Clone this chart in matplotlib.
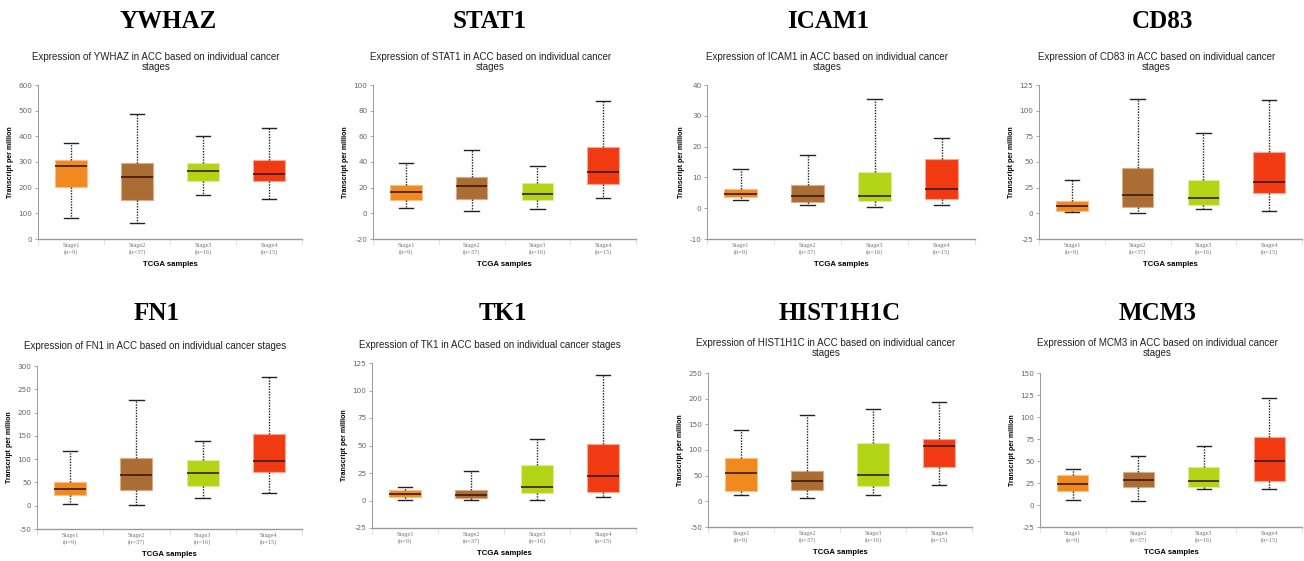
import matplotlib
matplotlib.use('Agg')
import matplotlib.pyplot as plt
import numpy as np

plt.rcParams['axes.unicode_minus'] = False

# stage categories
stages = ['Stage1\n(n=9)', 'Stage2\n(n=37)', 'Stage3\n(n=16)', 'Stage4\n(n=15)']
colors = ['#f08a1e', '#ac6d35', '#b2d414', '#f23a12']
edges = ['#f7c08a', '#d9ad8a', '#dcec98', '#f8a890']

# [whislo, q1, median, q3, whishi] per stage
YWHAZ = [[83, 201, 284, 308, 375], [64, 152, 243, 295, 486],
         [171, 226, 264, 297, 403], [155, 226, 255, 306, 434]]
STAT1 = [[4, 10, 16.4, 22, 39.3], [2, 11.5, 21.4, 28, 49],
         [3, 10, 15, 24, 37], [11.7, 23, 32, 52, 87.5]]
ICAM1 = [[2.7, 3.7, 4.6, 6.2, 12.8], [1.1, 2.1, 3.9, 7.4, 17.4],
         [0.3, 2.4, 3.9, 11.8, 35.4], [1.1, 2.9, 6.1, 16, 22.7]]
CD83 = [[1.4, 2.7, 7.3, 11.8, 32], [0.8, 6.3, 18, 43.8, 111.6],
        [4.7, 7.9, 15.1, 32.7, 78.3], [2.7, 19.7, 30.8, 59.8, 110.7]]
FN1 = [[4.3, 23, 36, 50.6, 117], [1.4, 33, 65, 103, 226],
       [16.4, 43, 71, 98, 139], [27, 73, 96, 155, 277]]
TK1 = [[0.5, 3.2, 6.2, 9.8, 12], [0.5, 2.6, 5.3, 9.8, 26.5],
       [0.8, 6.8, 12.3, 32, 55.6], [2.9, 8, 22.6, 51, 113.8]]
HIST1H1C = [[11.7, 20, 54.5, 85, 138], [7, 23, 39.6, 58.4, 169],
            [11.7, 30, 52, 113.6, 180.5], [31, 66, 107, 121, 193.5]]
MCM3 = [[5.3, 16.3, 23.5, 33.7, 41], [4.2, 20, 28.4, 37, 55.3],
        [18.6, 20.5, 27.3, 43.6, 66.7], [18.6, 27.3, 49.6, 77.3, 122]]

genes = ['YWHAZ', 'STAT1', 'ICAM1', 'CD83', 'FN1', 'TK1', 'HIST1H1C', 'MCM3']
data = [YWHAZ, STAT1, ICAM1, CD83, FN1, TK1, HIST1H1C, MCM3]
yticks = [np.arange(0, 601, 100), np.arange(-20, 101, 20), np.arange(-10, 41, 10),
          np.arange(-25, 126, 25), np.arange(-50, 301, 50), np.arange(-25, 126, 25),
          np.arange(-50, 251, 50), np.arange(-25, 151, 25)]

################################################################
W, H = 1304, 561
# axes boxes in pixels: left, right, top, bottom
boxes = [(38, 302, 85, 239), (373, 636, 85, 239), (707, 975, 85, 239), (1039, 1302, 85, 239),
         (37, 302, 366, 529), (372, 636, 363, 528), (708, 972, 373, 527), (1040, 1302, 373, 527)]
bigtitle = [(168, 22), (490, 22), (828, 22), (1162, 22),
            (157, 313), (503, 313), (840, 313), (1158, 313)]
subtitle_y = [52, 52, 52, 52, 341, 340, 338, 338]
oneline = ['FN1', 'TK1']

fig = plt.figure(figsize=(W/100, H/100), dpi=100)

for k in range(8):
    l, r, t, b = boxes[k]
    ax = fig.add_axes([l/W, 1-b/H, (r-l)/W, (b-t)/H])
    stats = []
    for i in range(4):
        s = data[k][i]
        stats.append(dict(whislo=s[0], q1=s[1], med=s[2], q3=s[3], whishi=s[4], fliers=[]))
    bp = ax.bxp(stats, positions=range(4), widths=0.48, patch_artist=True,
                capwidths=0.22, showfliers=False,
                whiskerprops=dict(color='#222222', lw=1, ls=(0, (1, 1))),
                capprops=dict(color='#222222', lw=1),
                medianprops=dict(color='#3a1a08', lw=1.2))
    for i, patch in enumerate(bp['boxes']):
        patch.set_facecolor(colors[i])
        patch.set_edgecolor(edges[i])
        patch.set_linewidth(0.8)

    ax.set_xlim(-0.5, 3.5)
    ax.set_ylim(yticks[k][0], yticks[k][-1])
    ax.set_yticks(yticks[k])
    ax.tick_params(axis='y', labelsize=5.2, labelcolor='#666666', color='#999999',
                   length=2.5, width=0.6, pad=1.5)
    ax.set_xticks(range(4))
    ax.set_xticklabels(stages, fontsize=4.6, color='#777777', family='Liberation Serif',
                       linespacing=1.3)
    ax.tick_params(axis='x', length=0, pad=3)
    ax.set_xticks([-0.5, 0.5, 1.5, 2.5, 3.5], minor=True)
    ax.tick_params(axis='x', which='minor', length=4, color='#dde3ea', width=0.8)
    for sp in ['top', 'right']:
        ax.spines[sp].set_visible(False)
    ax.spines['left'].set_color('#999999')
    ax.spines['left'].set_linewidth(0.7)
    ax.spines['bottom'].set_color('#999999')
    ax.spines['bottom'].set_linewidth(1.0)
    ax.set_ylabel('Transcript per million', fontsize=5.0, fontweight='bold',
                  family='Liberation Sans', labelpad=3)
    ax.set_xlabel('TCGA samples', fontsize=5.6, fontweight='bold',
                  family='Liberation Sans', labelpad=4)

    g = genes[k]
    if g in oneline:
        sub = 'Expression of ' + g + ' in ACC based on individual cancer stages'
    else:
        sub = 'Expression of ' + g + ' in ACC based on individual cancer\nstages'
    cx = (l + r) / 2 - 14
    fig.text(cx/W, 1-subtitle_y[k]/H, sub, ha='center', va='top', fontsize=7.0,
             family='Liberation Sans', color='#222222', linespacing=1.05)
    x0, y0 = bigtitle[k]
    fig.text(x0/W, 1-y0/H, g, ha='center', va='center', fontsize=18,
             fontweight='bold', family='Liberation Serif')

fig.savefig('out.png', dpi=100)
